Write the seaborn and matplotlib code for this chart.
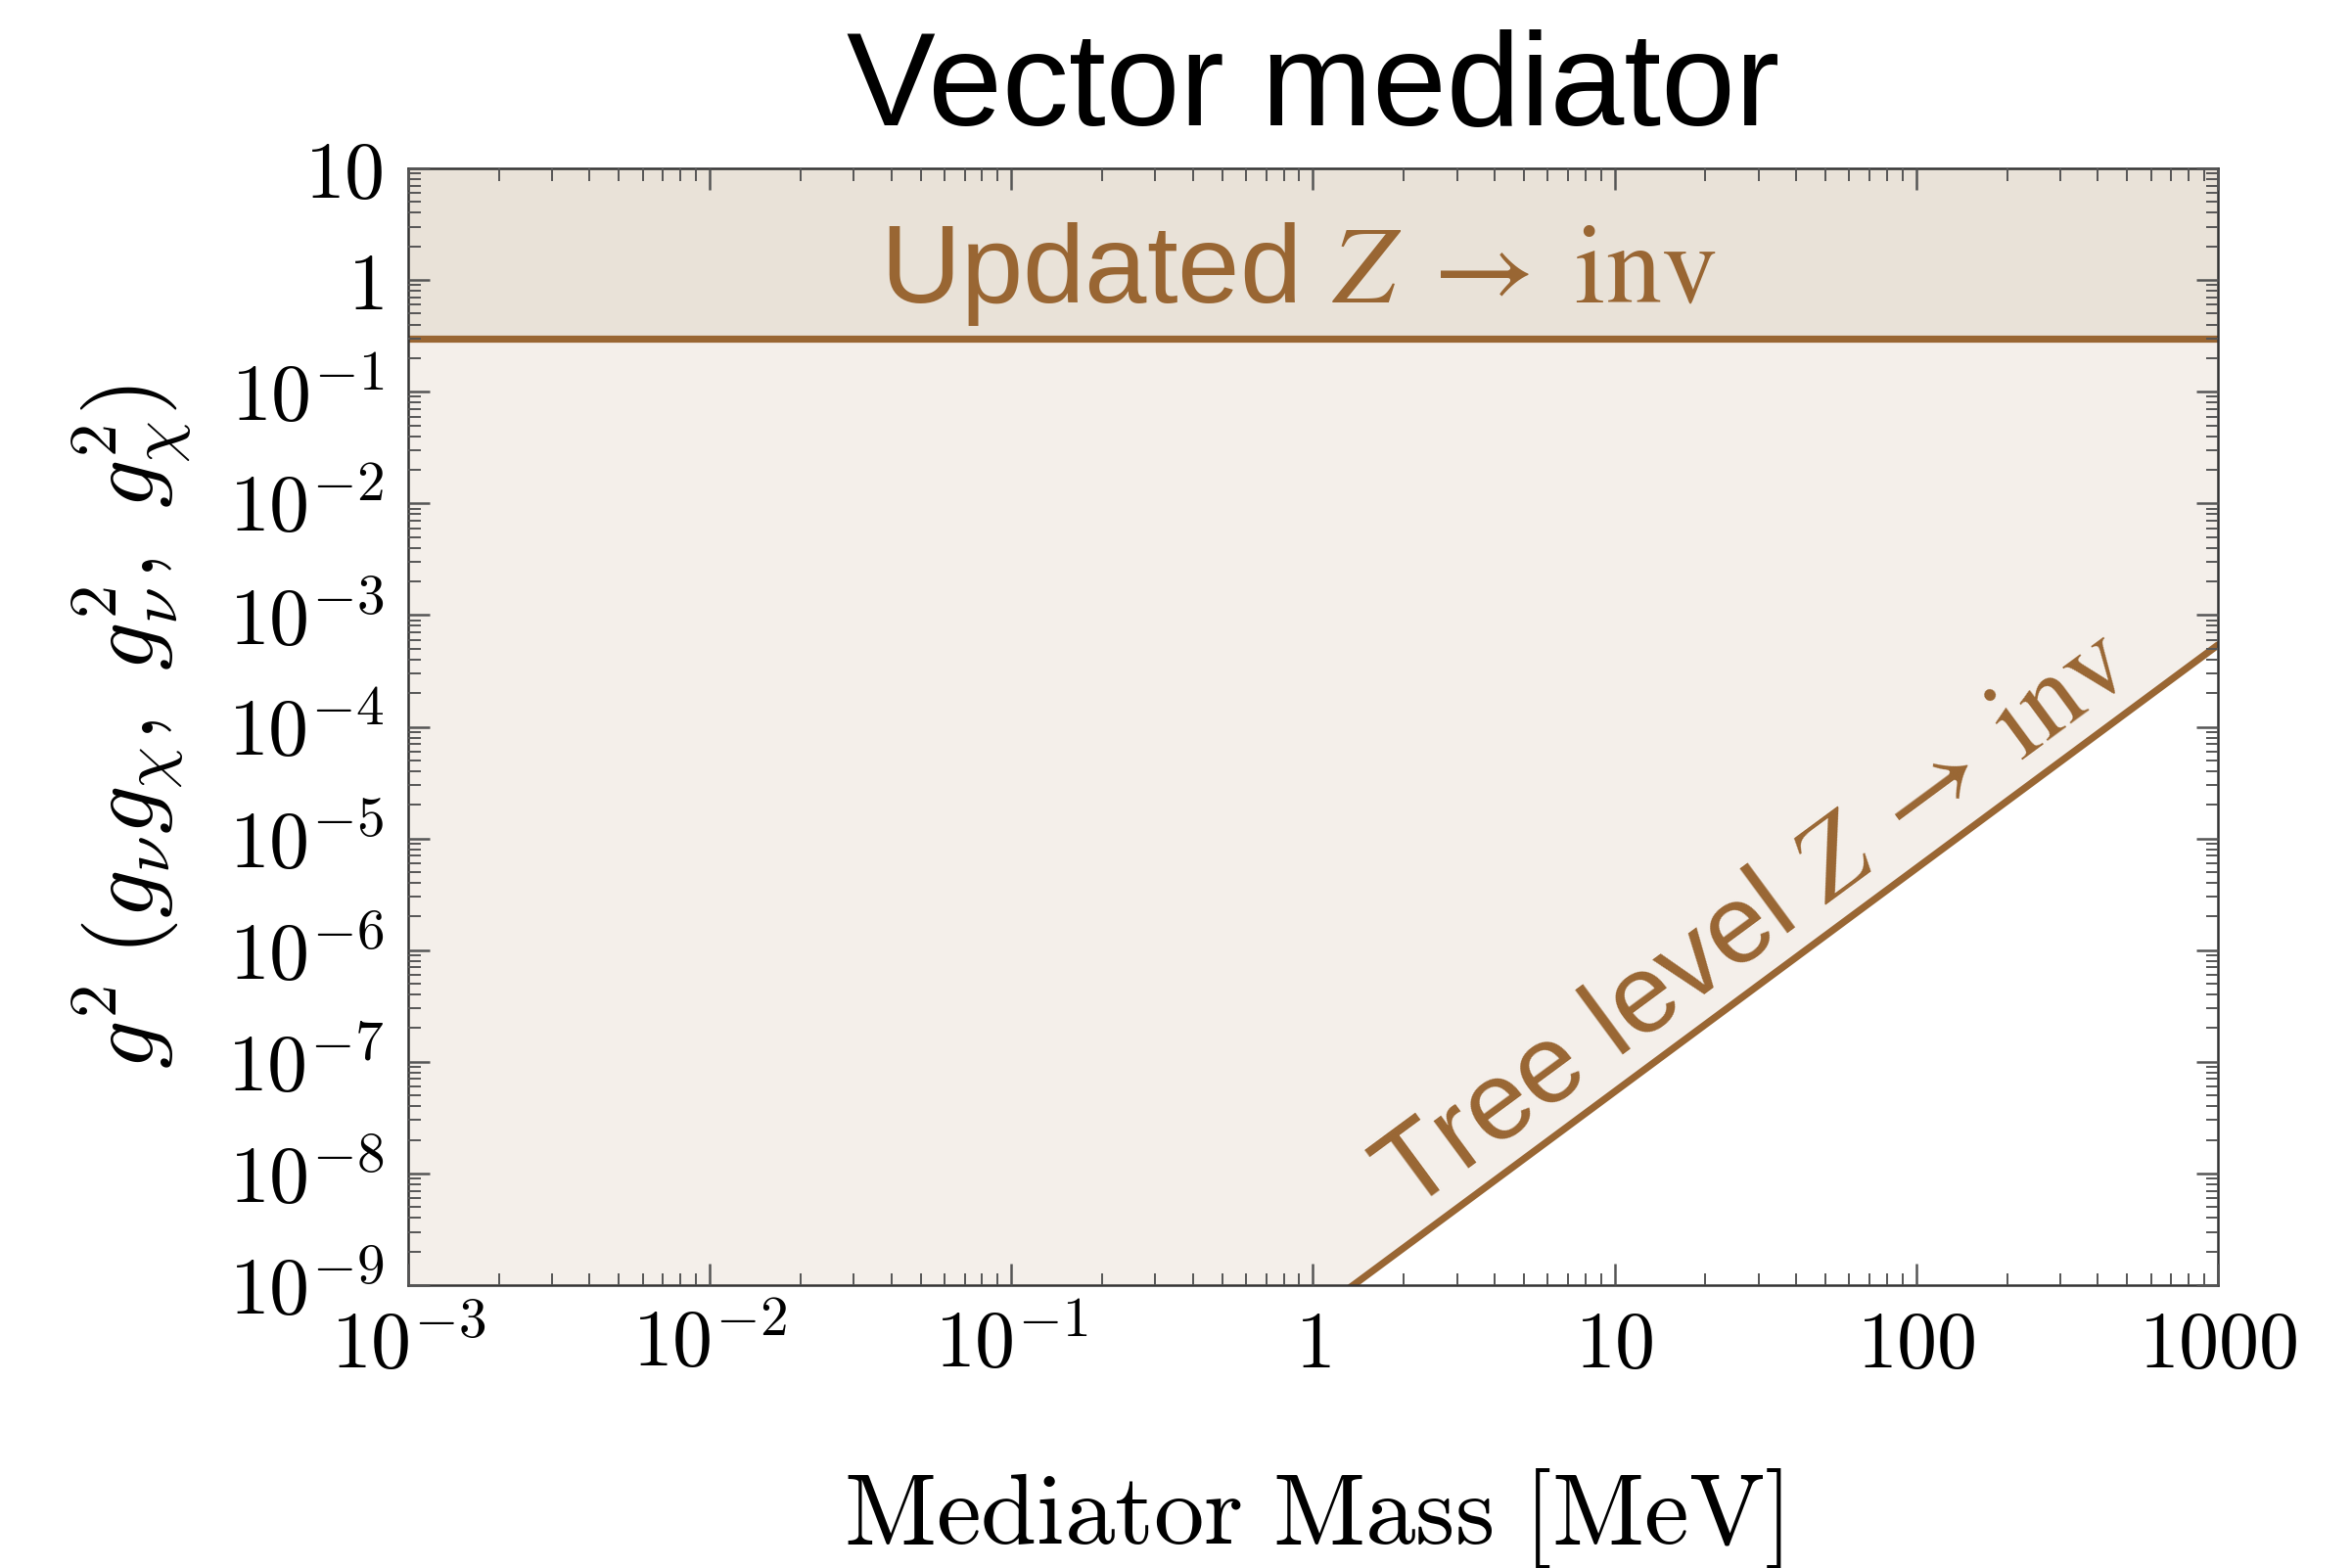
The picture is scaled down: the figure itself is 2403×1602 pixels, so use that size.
import numpy as np
import matplotlib
matplotlib.use("Agg")
import matplotlib.pyplot as plt
import seaborn as sns
from matplotlib.ticker import FixedLocator, FixedFormatter, LogLocator, NullFormatter

# ---- data ----
mass_range = [1e-3, 1000]                      # MeV
updated_limit = [0.3, 0.3]                     # g^2 bound from updated Z -> inv
tree_mass = [1e-3, 1e-2, 1e-1, 1, 10, 100, 1000]
tree_limit = [5.4e-16, 5.4e-14, 5.4e-12, 5.4e-10, 5.4e-8, 5.4e-6, 5.4e-4]
y_top = [10, 10]

x_ticks = [1e-3, 1e-2, 1e-1, 1, 10, 100, 1000]
x_tick_labels = [r"$10^{-3}$", r"$10^{-2}$", r"$10^{-1}$", r"$1$", r"$10$", r"$100$", r"$1000$"]
y_ticks = [1e-9, 1e-8, 1e-7, 1e-6, 1e-5, 1e-4, 1e-3, 1e-2, 1e-1, 1, 10]
y_tick_labels = [r"$10^{-9}$", r"$10^{-8}$", r"$10^{-7}$", r"$10^{-6}$", r"$10^{-5}$",
                 r"$10^{-4}$", r"$10^{-3}$", r"$10^{-2}$", r"$10^{-1}$", r"$1$", r"$10$"]

line_color = "#996633"
upper_fill = "#e9e2d8"
lower_fill = "#f4efea"

sns.set_theme(style="white")
plt.rcParams["font.family"] = ["Liberation Sans", "DejaVu Sans"]
plt.rcParams["mathtext.fontset"] = "cm"

fig = plt.figure(figsize=(12.015, 8.01), dpi=200)
ax = fig.add_axes([0.1735, 0.1804, 0.7695, 0.7122])
ax.set_xscale("log")
ax.set_yscale("log")
ax.set_xlim(1e-3, 1000)
ax.set_ylim(1e-9, 10)
ax.set_axisbelow(False)

ax.fill_between(tree_mass, tree_limit, [10] * len(tree_mass), color=lower_fill, lw=0, zorder=1)
ax.fill_between(mass_range, updated_limit, y_top, color=upper_fill, lw=0, zorder=1.1)
sns.lineplot(x=tree_mass, y=tree_limit, ax=ax, color=line_color, lw=2.6, zorder=2)
sns.lineplot(x=mass_range, y=updated_limit, ax=ax, color=line_color, lw=2.6, zorder=2)

ax.xaxis.set_major_locator(FixedLocator(x_ticks))
ax.xaxis.set_major_formatter(FixedFormatter(x_tick_labels))
ax.yaxis.set_major_locator(FixedLocator(y_ticks))
ax.yaxis.set_major_formatter(FixedFormatter(y_tick_labels))
ax.xaxis.set_minor_locator(LogLocator(base=10, subs=np.arange(2, 10), numticks=100))
ax.yaxis.set_minor_locator(LogLocator(base=10, subs=np.arange(2, 10), numticks=100))
ax.xaxis.set_minor_formatter(NullFormatter())
ax.yaxis.set_minor_formatter(NullFormatter())

ax.tick_params(which="both", direction="in", top=True, right=True, bottom=True, left=True,
               color="#555555", labelcolor="black")
ax.tick_params(which="major", length=8, width=0.9, labelsize=29.5, pad=9)
ax.tick_params(which="minor", length=4.5, width=0.7)
for s in ax.spines.values():
    s.set_color("#333333")
    s.set_linewidth(0.9)
    s.set_visible(True)

ax.set_xlabel(r"$\mathrm{Mediator\ Mass\ [MeV]}$", fontsize=37, labelpad=30, color="black")
ax.set_ylabel(r"$g^2\;(g_\nu g_\chi,\ g_\nu^2,\ g_\chi^2)$", fontsize=35, labelpad=12, color="black")
ax.set_title("Vector mediator", fontsize=49, pad=16, color="black")

ax.text(0.4916, 0.905, r"Updated $Z\;\rightarrow\;\mathrm{inv}$", transform=ax.transAxes,
        ha="center", va="center", fontsize=41, color=line_color, math_fontfamily="stix", zorder=4)
ax.text(0.744, 0.325, r"Tree level $Z\;\rightarrow\;\mathrm{inv}$", transform=ax.transAxes,
        ha="center", va="center", fontsize=41, color=line_color, math_fontfamily="stix",
        rotation=36.4, rotation_mode="anchor", zorder=4)

fig.savefig("out.png", dpi=200, facecolor="white")
